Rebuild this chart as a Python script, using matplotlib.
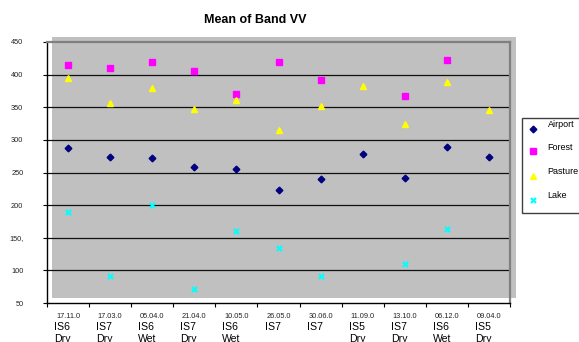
import matplotlib
matplotlib.use("Agg")
import matplotlib.pyplot as plt
import matplotlib.transforms as mtransforms
from matplotlib.patches import Rectangle
from matplotlib.lines import Line2D
import numpy as np

plt.rcParams['font.family'] = ['Liberation Sans', 'DejaVu Sans']

# ---- data ----
dates = ["17.11.0", "17.03.0", "05.04.0", "21.04.0", "10.05.0", "26.05.0",
         "30.06.0", "11.09.0", "13.10.0", "06.12.0", "09.04.0"]
sensors = ["IS6", "IS7", "IS6", "IS7", "IS6", "IS7", "IS7", "IS5", "IS7", "IS6", "IS5"]
seasons = ["Dry", "Dry", "Wet", "Dry", "Wet", "", "", "Dry", "Dry", "Wet", "Dry"]

airport = [288, 273, 272, 258, 255, 223, 240, 279, 241, 289, 273]
forest = [415, 410, 420, 405, 371, 419, 391, np.nan, 367, 422, np.nan]
pasture = [395, 356, 380, 347, 361, 315, 352, 382, 324, 389, 346]
lake = [189, 91, 200, 72, 160, 135, 91, np.nan, 110, 164, np.nan]

ytick_values = [50, 100, 150, 200, 250, 300, 350, 400, 450]
ytick_labels = ["50", "100", "150,", "200", "250", "300", "350", "400", "450"]

series = [
    ("Airport", airport, dict(marker="D", color="#000080", markersize=3.4)),
    ("Forest", forest, dict(marker="s", color="#FF00FF", markersize=4.3)),
    ("Pasture", pasture, dict(marker="^", color="#FFFF00", markersize=4.6)),
    ("Lake", lake, dict(marker="x", color="#00FFFF", markersize=3.6, markeredgewidth=1.6)),
]

W, H = 579, 342
fig = plt.figure(figsize=(W / 100, H / 100), dpi=100)

def px(x0, y0, x1, y1):
    return [x0 / W, 1 - y1 / H, (x1 - x0) / W, (y1 - y0) / H]

# shaded plot area, slightly offset from the axes frame
r = px(52, 37, 516, 298)
fig.add_artist(Rectangle((r[0], r[1]), r[2], r[3], transform=fig.transFigure,
                         facecolor="#C0C0C0", edgecolor="none", zorder=0))

ax = fig.add_axes(px(47, 42, 510, 303))
ax.set_facecolor("none")
ax.set_zorder(1)

n = len(dates)
xc = np.arange(n) + 0.5
ax.set_xlim(0, n)
ax.set_ylim(50, 450)

for yv in ytick_values[1:-1]:
    ax.axhline(yv, color="#101010", linewidth=0.9, zorder=1)

for name, vals, style in series:
    ax.plot(xc, vals, linestyle="none", zorder=3, **style)

# spines
ax.spines["left"].set_color("black")
ax.spines["bottom"].set_color("black")
ax.spines["left"].set_linewidth(1.0)
ax.spines["bottom"].set_linewidth(1.0)
ax.spines["right"].set_color("#808080")
ax.spines["top"].set_color("#808080")
ax.spines["right"].set_linewidth(1.6)
ax.spines["top"].set_linewidth(1.6)

ax.set_yticks(ytick_values)
ax.set_yticklabels(ytick_labels, fontsize=5.3, color="#222222")
ax.tick_params(axis="y", direction="out", length=3, width=0.8, pad=14)
ax.set_xticks(np.arange(n + 1))
ax.set_xticklabels([])
ax.tick_params(axis="x", direction="out", length=3, width=0.8)

# category labels: date, sensor, season
trans = mtransforms.blended_transform_factory(ax.transData, fig.transFigure)
off = mtransforms.ScaledTranslation(-14 / 100, 0, fig.dpi_scale_trans)
for i in range(n):
    ax.text(xc[i], 1 - 318 / H, dates[i], transform=trans, fontsize=5.3,
            ha="center", va="baseline", color="#222222", clip_on=False)
    ax.text(xc[i], 1 - 330.5 / H, sensors[i], transform=trans + off, fontsize=7.6,
            ha="left", va="baseline", color="black", clip_on=False)
    if seasons[i]:
        ax.text(xc[i], 1 - 341.5 / H, seasons[i], transform=trans + off, fontsize=7.6,
                ha="left", va="baseline", color="black", clip_on=False)

fig.text(255.5 / W, 1 - 22.7 / H, "Mean of Band VV", fontsize=9, fontweight="bold",
         ha="center", va="baseline")

# legend box
lb = px(522, 118, 590, 213)
fig.add_artist(Rectangle((lb[0], lb[1]), lb[2], lb[3], transform=fig.transFigure,
                         facecolor="white", edgecolor="#404040", linewidth=1.0, zorder=2))
text_y = [125, 148, 172, 196]
for (name, vals, style), ty in zip(series, text_y):
    fig.add_artist(Line2D([533 / W], [1 - (ty + 3.5) / H], transform=fig.transFigure,
                          linestyle="none", zorder=3, **style))
    fig.text(547.5 / W, 1 - ty / H, name, fontsize=6.5, ha="left", va="center", zorder=3)

fig.savefig("out.png", dpi=100)
